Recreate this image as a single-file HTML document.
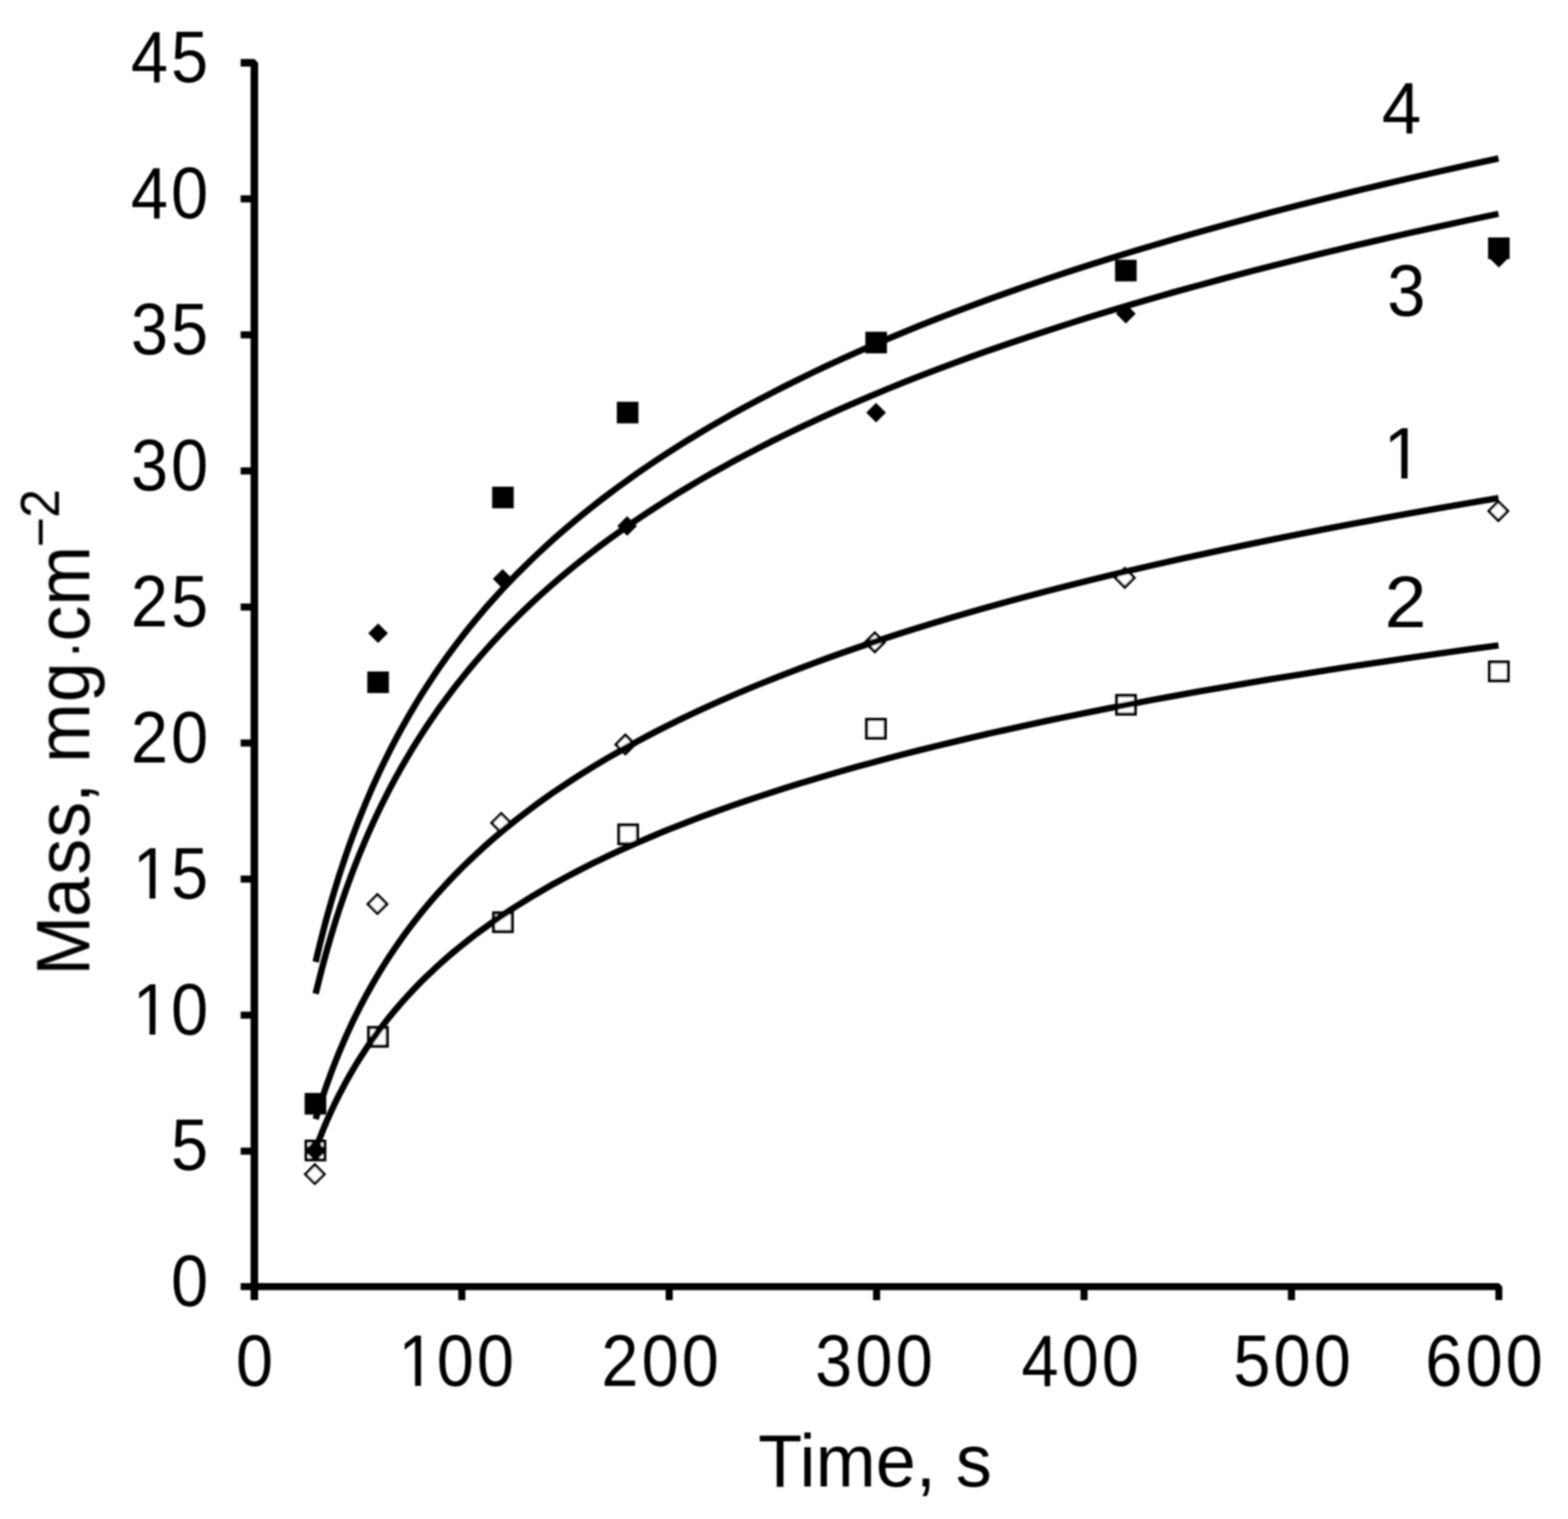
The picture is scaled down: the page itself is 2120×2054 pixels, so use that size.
<!DOCTYPE html>
<html lang="en">
<head>
<meta charset="utf-8">
<title>Mass vs. Time</title>
<style>
html,body{margin:0;padding:0;background:#fff;}
body{width:2120px;height:2054px;overflow:hidden;}
svg{display:block;}
text{font-family:"Liberation Sans", Arial, Helvetica, sans-serif;fill:#000;}
.ax{stroke:#000;stroke-width:10.2;fill:none;stroke-linecap:butt;stroke-linejoin:bevel;}
.axx{stroke:#000;stroke-width:9.4;fill:none;stroke-linecap:butt;stroke-linejoin:bevel;}
.tk{stroke:#000;stroke-width:9.6;fill:none;stroke-linecap:butt;}
.cv{stroke:#000;stroke-width:8.6;fill:none;stroke-linecap:butt;stroke-linejoin:round;}
.fs{fill:#000;stroke:none;}
.os{fill:#fff;stroke:#000;stroke-width:4.2;}
.od{fill:#fff;stroke:#000;stroke-width:3.7;stroke-linejoin:miter;}
</style>
</head>
<body>
<svg width="2120" height="2054" viewBox="0 0 2120 2054">
<defs>
<filter id="soft" x="0" y="0" width="2120" height="2054" filterUnits="userSpaceOnUse"><feGaussianBlur stdDeviation="1.0"/></filter>
<clipPath id="c0" clipPathUnits="userSpaceOnUse"><rect x="-149.0" y="-115.2" width="480.0" height="107.2"/><rect x="-28.8" y="-9.0" width="8.5" height="11.0"/><rect x="1.2" y="-9.0" width="384.0" height="46.4"/></clipPath>
<clipPath id="c1" clipPathUnits="userSpaceOnUse"><rect x="-149.0" y="-115.2" width="480.0" height="107.2"/><rect x="-28.8" y="-9.0" width="8.5" height="11.0"/><rect x="1.2" y="-9.0" width="384.0" height="46.4"/></clipPath>
<clipPath id="c2" clipPathUnits="userSpaceOnUse"><rect x="-177.9" y="-115.2" width="480.0" height="107.2"/><rect x="-57.8" y="-9.0" width="8.5" height="11.0"/><rect x="-27.7" y="-9.0" width="384.0" height="46.4"/></clipPath>
<clipPath id="c3" clipPathUnits="userSpaceOnUse"><rect x="-120.2" y="-115.2" width="480.0" height="107.2"/><rect x="-0.1" y="-9.0" width="8.5" height="11.0"/><rect x="29.6" y="-9.0" width="384.0" height="46.4"/></clipPath>
</defs>
<rect x="0" y="0" width="2120" height="2054" fill="#fff"/>
<g id="chart" filter="url(#soft)">
<g id="markers-under">
<rect class="os" x="413.9" y="1543.1" width="25.2" height="25.2"/>
<rect class="os" x="498.4" y="1389.4" width="25.2" height="25.2"/>
<rect class="os" x="667.4" y="1234.4" width="25.2" height="25.2"/>
<rect class="os" x="836.7" y="1115.6" width="25.2" height="25.2"/>
<rect class="os" x="1171.7" y="972.8" width="25.2" height="25.2"/>
<rect class="os" x="1509.8" y="940.4" width="25.2" height="25.2"/>
<rect class="os" x="2013.9" y="895.2" width="25.2" height="25.2"/>
<path class="od" d="M425.7 1574.9 L438.5 1587.7 L425.7 1600.5 L412.9 1587.7 Z"/>
<path class="od" d="M510.3 1209.6 L523.1 1222.4 L510.3 1235.2 L497.5 1222.4 Z"/>
<path class="od" d="M677.6 1100.0 L690.4 1112.8 L677.6 1125.6 L664.8 1112.8 Z"/>
<path class="od" d="M845.5 993.9 L858.3 1006.7 L845.5 1019.5 L832.7 1006.7 Z"/>
<path class="od" d="M1182.8 855.8 L1195.6 868.6 L1182.8 881.4 L1170.0 868.6 Z"/>
<path class="od" d="M1520.8 768.5 L1533.6 781.3 L1520.8 794.1 L1508.0 781.3 Z"/>
<path class="od" d="M2025.8 678.2 L2038.6 691.0 L2025.8 703.8 L2013.0 691.0 Z"/>
<path class="fs" d="M426.5 1540.7 L441.5 1555.7 L426.5 1570.7 L411.5 1555.7 Z"/>
<path class="fs" d="M511.2 843.0 L524.5 856.3 L511.2 869.6 L497.9 856.3 Z"/>
<path class="fs" d="M679.6 769.4 L692.9 782.7 L679.6 796.0 L666.3 782.7 Z"/>
<path class="fs" d="M847.9 698.0 L861.2 711.3 L847.9 724.6 L834.6 711.3 Z"/>
<path class="fs" d="M1184.5 544.7 L1197.8 558.0 L1184.5 571.3 L1171.2 558.0 Z"/>
<path class="fs" d="M1522.2 411.0 L1535.5 424.3 L1522.2 437.6 L1508.9 424.3 Z"/>
<path class="fs" d="M2026.5 335.2 L2039.8 348.5 L2026.5 361.8 L2013.2 348.5 Z"/>
<rect class="fs" x="411.9" y="1477.9" width="29.2" height="29.2"/>
<rect class="fs" x="496.6" y="908.0" width="29.2" height="29.2"/>
<rect class="fs" x="665.4" y="658.1" width="29.2" height="29.2"/>
<rect class="fs" x="834.0" y="543.3" width="29.2" height="29.2"/>
<rect class="fs" x="1170.0" y="448.6" width="29.2" height="29.2"/>
<rect class="fs" x="1507.6" y="351.3" width="29.2" height="29.2"/>
<rect class="fs" x="2011.9" y="321.1" width="29.2" height="29.2"/>
</g>
<g id="curves">
<path class="cv" d="M426.8 1300.7 L428.9 1291.7 L431.1 1282.6 L433.3 1273.6 L435.6 1264.5 L437.9 1255.5 L440.3 1246.4 L442.7 1237.4 L445.3 1228.3 L447.8 1219.3 L450.5 1210.2 L453.2 1201.1 L456.0 1192.1 L458.8 1183.0 L461.8 1174.0 L464.8 1164.9 L467.8 1155.9 L471.0 1146.8 L474.2 1137.8 L477.5 1128.7 L480.9 1119.7 L484.4 1110.6 L488.0 1101.6 L491.7 1092.5 L495.4 1083.4 L499.3 1074.4 L503.2 1065.3 L507.3 1056.3 L511.4 1047.2 L515.7 1038.2 L520.1 1029.1 L524.5 1020.1 L529.1 1011.0 L533.8 1002.0 L538.7 992.9 L543.6 983.9 L548.7 974.8 L553.9 965.7 L559.2 956.7 L564.7 947.6 L570.3 938.6 L576.1 929.5 L582.0 920.5 L588.0 911.4 L594.2 902.4 L600.6 893.3 L607.1 884.3 L613.8 875.2 L620.7 866.2 L627.7 857.1 L634.9 848.0 L642.3 839.0 L649.9 829.9 L657.6 820.9 L665.6 811.8 L673.8 802.8 L682.1 793.7 L690.7 784.7 L699.5 775.6 L708.6 766.6 L717.8 757.5 L727.3 748.5 L737.1 739.4 L747.0 730.3 L757.3 721.3 L767.8 712.2 L778.5 703.2 L789.6 694.1 L800.9 685.1 L812.5 676.0 L824.4 667.0 L836.6 657.9 L849.1 648.9 L861.9 639.8 L875.1 630.8 L888.5 621.7 L902.4 612.6 L916.5 603.6 L931.1 594.5 L946.0 585.5 L961.3 576.4 L976.9 567.4 L993.0 558.3 L1009.5 549.3 L1026.4 540.2 L1043.7 531.2 L1061.4 522.1 L1079.7 513.1 L1098.3 504.0 L1117.5 494.9 L1137.1 485.9 L1157.2 476.8 L1177.9 467.8 L1199.0 458.7 L1220.7 449.7 L1243.0 440.6 L1265.8 431.6 L1289.2 422.5 L1313.2 413.5 L1337.8 404.4 L1363.0 395.4 L1388.9 386.3 L1415.4 377.2 L1442.6 368.2 L1470.4 359.1 L1499.0 350.1 L1528.3 341.0 L1558.4 332.0 L1589.2 322.9 L1620.8 313.9 L1653.2 304.8 L1686.4 295.8 L1720.5 286.7 L1755.4 277.7 L1791.2 268.6 L1827.9 259.5 L1865.6 250.5 L1904.2 241.4 L1943.8 232.4 L1984.4 223.3 L2026.0 214.3"/>
<path class="cv" d="M426.8 1343.8 L428.9 1335.0 L431.1 1326.2 L433.3 1317.4 L435.6 1308.6 L437.9 1299.8 L440.3 1291.1 L442.7 1282.3 L445.3 1273.5 L447.8 1264.7 L450.5 1255.9 L453.2 1247.1 L456.0 1238.3 L458.8 1229.5 L461.8 1220.7 L464.8 1212.0 L467.8 1203.2 L471.0 1194.4 L474.2 1185.6 L477.5 1176.8 L480.9 1168.0 L484.4 1159.2 L488.0 1150.4 L491.7 1141.6 L495.4 1132.9 L499.3 1124.1 L503.2 1115.3 L507.3 1106.5 L511.4 1097.7 L515.7 1088.9 L520.1 1080.1 L524.5 1071.3 L529.1 1062.5 L533.8 1053.7 L538.7 1045.0 L543.6 1036.2 L548.7 1027.4 L553.9 1018.6 L559.2 1009.8 L564.7 1001.0 L570.3 992.2 L576.1 983.4 L582.0 974.6 L588.0 965.9 L594.2 957.1 L600.6 948.3 L607.1 939.5 L613.8 930.7 L620.7 921.9 L627.7 913.1 L634.9 904.3 L642.3 895.5 L649.9 886.7 L657.6 878.0 L665.6 869.2 L673.8 860.4 L682.1 851.6 L690.7 842.8 L699.5 834.0 L708.6 825.2 L717.8 816.4 L727.3 807.6 L737.1 798.9 L747.0 790.1 L757.3 781.3 L767.8 772.5 L778.5 763.7 L789.6 754.9 L800.9 746.1 L812.5 737.3 L824.4 728.5 L836.6 719.8 L849.1 711.0 L861.9 702.2 L875.1 693.4 L888.5 684.6 L902.4 675.8 L916.5 667.0 L931.1 658.2 L946.0 649.4 L961.3 640.6 L976.9 631.9 L993.0 623.1 L1009.5 614.3 L1026.4 605.5 L1043.7 596.7 L1061.4 587.9 L1079.7 579.1 L1098.3 570.3 L1117.5 561.5 L1137.1 552.8 L1157.2 544.0 L1177.9 535.2 L1199.0 526.4 L1220.7 517.6 L1243.0 508.8 L1265.8 500.0 L1289.2 491.2 L1313.2 482.4 L1337.8 473.6 L1363.0 464.9 L1388.9 456.1 L1415.4 447.3 L1442.6 438.5 L1470.4 429.7 L1499.0 420.9 L1528.3 412.1 L1558.4 403.3 L1589.2 394.5 L1620.8 385.8 L1653.2 377.0 L1686.4 368.2 L1720.5 359.4 L1755.4 350.6 L1791.2 341.8 L1827.9 333.0 L1865.6 324.2 L1904.2 315.4 L1943.8 306.7 L1984.4 297.9 L2026.0 289.1"/>
<path class="cv" d="M426.8 1513.2 L428.9 1506.2 L431.1 1499.2 L433.3 1492.2 L435.6 1485.2 L437.9 1478.2 L440.3 1471.2 L442.7 1464.2 L445.3 1457.2 L447.8 1450.2 L450.5 1443.2 L453.2 1436.2 L456.0 1429.2 L458.8 1422.2 L461.8 1415.2 L464.8 1408.2 L467.8 1401.2 L471.0 1394.2 L474.2 1387.2 L477.5 1380.2 L480.9 1373.3 L484.4 1366.3 L488.0 1359.3 L491.7 1352.3 L495.4 1345.3 L499.3 1338.3 L503.2 1331.3 L507.3 1324.3 L511.4 1317.3 L515.7 1310.3 L520.1 1303.3 L524.5 1296.3 L529.1 1289.3 L533.8 1282.3 L538.7 1275.3 L543.6 1268.3 L548.7 1261.3 L553.9 1254.3 L559.2 1247.3 L564.7 1240.3 L570.3 1233.3 L576.1 1226.3 L582.0 1219.3 L588.0 1212.3 L594.2 1205.3 L600.6 1198.3 L607.1 1191.3 L613.8 1184.3 L620.7 1177.3 L627.7 1170.3 L634.9 1163.3 L642.3 1156.3 L649.9 1149.3 L657.6 1142.3 L665.6 1135.3 L673.8 1128.3 L682.1 1121.3 L690.7 1114.3 L699.5 1107.3 L708.6 1100.3 L717.8 1093.3 L727.3 1086.3 L737.1 1079.3 L747.0 1072.3 L757.3 1065.4 L767.8 1058.4 L778.5 1051.4 L789.6 1044.4 L800.9 1037.4 L812.5 1030.4 L824.4 1023.4 L836.6 1016.4 L849.1 1009.4 L861.9 1002.4 L875.1 995.4 L888.5 988.4 L902.4 981.4 L916.5 974.4 L931.1 967.4 L946.0 960.4 L961.3 953.4 L976.9 946.4 L993.0 939.4 L1009.5 932.4 L1026.4 925.4 L1043.7 918.4 L1061.4 911.4 L1079.7 904.4 L1098.3 897.4 L1117.5 890.4 L1137.1 883.4 L1157.2 876.4 L1177.9 869.4 L1199.0 862.4 L1220.7 855.4 L1243.0 848.4 L1265.8 841.4 L1289.2 834.4 L1313.2 827.4 L1337.8 820.4 L1363.0 813.4 L1388.9 806.4 L1415.4 799.4 L1442.6 792.4 L1470.4 785.4 L1499.0 778.4 L1528.3 771.4 L1558.4 764.4 L1589.2 757.4 L1620.8 750.5 L1653.2 743.5 L1686.4 736.5 L1720.5 729.5 L1755.4 722.5 L1791.2 715.5 L1827.9 708.5 L1865.6 701.5 L1904.2 694.5 L1943.8 687.5 L1984.4 680.5 L2026.0 673.5"/>
<path class="cv" d="M426.8 1553.6 L428.9 1547.9 L431.1 1542.2 L433.3 1536.6 L435.6 1530.9 L437.9 1525.2 L440.3 1519.5 L442.7 1513.9 L445.3 1508.2 L447.8 1502.5 L450.5 1496.9 L453.2 1491.2 L456.0 1485.5 L458.8 1479.8 L461.8 1474.2 L464.8 1468.5 L467.8 1462.8 L471.0 1457.1 L474.2 1451.5 L477.5 1445.8 L480.9 1440.1 L484.4 1434.4 L488.0 1428.8 L491.7 1423.1 L495.4 1417.4 L499.3 1411.7 L503.2 1406.1 L507.3 1400.4 L511.4 1394.7 L515.7 1389.0 L520.1 1383.4 L524.5 1377.7 L529.1 1372.0 L533.8 1366.3 L538.7 1360.7 L543.6 1355.0 L548.7 1349.3 L553.9 1343.6 L559.2 1338.0 L564.7 1332.3 L570.3 1326.6 L576.1 1320.9 L582.0 1315.3 L588.0 1309.6 L594.2 1303.9 L600.6 1298.2 L607.1 1292.6 L613.8 1286.9 L620.7 1281.2 L627.7 1275.6 L634.9 1269.9 L642.3 1264.2 L649.9 1258.5 L657.6 1252.9 L665.6 1247.2 L673.8 1241.5 L682.1 1235.8 L690.7 1230.2 L699.5 1224.5 L708.6 1218.8 L717.8 1213.1 L727.3 1207.5 L737.1 1201.8 L747.0 1196.1 L757.3 1190.4 L767.8 1184.8 L778.5 1179.1 L789.6 1173.4 L800.9 1167.7 L812.5 1162.1 L824.4 1156.4 L836.6 1150.7 L849.1 1145.0 L861.9 1139.4 L875.1 1133.7 L888.5 1128.0 L902.4 1122.3 L916.5 1116.7 L931.1 1111.0 L946.0 1105.3 L961.3 1099.6 L976.9 1094.0 L993.0 1088.3 L1009.5 1082.6 L1026.4 1077.0 L1043.7 1071.3 L1061.4 1065.6 L1079.7 1059.9 L1098.3 1054.3 L1117.5 1048.6 L1137.1 1042.9 L1157.2 1037.2 L1177.9 1031.6 L1199.0 1025.9 L1220.7 1020.2 L1243.0 1014.5 L1265.8 1008.9 L1289.2 1003.2 L1313.2 997.5 L1337.8 991.8 L1363.0 986.2 L1388.9 980.5 L1415.4 974.8 L1442.6 969.1 L1470.4 963.5 L1499.0 957.8 L1528.3 952.1 L1558.4 946.4 L1589.2 940.8 L1620.8 935.1 L1653.2 929.4 L1686.4 923.7 L1720.5 918.1 L1755.4 912.4 L1791.2 906.7 L1827.9 901.0 L1865.6 895.4 L1904.2 889.7 L1943.8 884.0 L1984.4 878.3 L2026.0 872.7"/>
</g>
<g id="markers-over">
</g>
<g id="axes">
<path class="ax" d="M325.4 84.9 H343.9 V1758.1"/>
<path class="axx" d="M325.4 1739.8 H2026.5 V1758.1"/>
<path class="tk" d="M325.4 1556.6 H343.9"/>
<path class="tk" d="M325.4 1372.7 H343.9"/>
<path class="tk" d="M325.4 1188.7 H343.9"/>
<path class="tk" d="M325.4 1004.7 H343.9"/>
<path class="tk" d="M325.4 820.8 H343.9"/>
<path class="tk" d="M325.4 636.8 H343.9"/>
<path class="tk" d="M325.4 452.8 H343.9"/>
<path class="tk" d="M325.4 268.9 H343.9"/>
<path class="tk" d="M624.4 1739.8 V1758.1"/>
<path class="tk" d="M904.8 1739.8 V1758.1"/>
<path class="tk" d="M1185.2 1739.8 V1758.1"/>
<path class="tk" d="M1465.7 1739.8 V1758.1"/>
<path class="tk" d="M1746.1 1739.8 V1758.1"/>
</g>
<g id="labels">
<text transform="translate(256.4 1766.4) scale(0.94 1.03)" font-size="96" x="-26.7">0</text>
<text transform="translate(256.4 1582.4) scale(0.94 1.03)" font-size="96" x="-26.7">5</text>
<text transform="translate(229.2 1398.5) scale(0.94 1.03)" font-size="96" x="-53.0 2.2" clip-path="url(#c0)">10</text>
<text transform="translate(229.2 1214.5) scale(0.94 1.03)" font-size="96" x="-53.0 2.2" clip-path="url(#c1)">15</text>
<text transform="translate(229.2 1030.5) scale(0.94 1.03)" font-size="96" x="-55.6 2.2">20</text>
<text transform="translate(229.2 846.6) scale(0.94 1.03)" font-size="96" x="-55.6 2.2">25</text>
<text transform="translate(229.2 662.6) scale(0.94 1.03)" font-size="96" x="-55.6 2.2">30</text>
<text transform="translate(229.2 478.6) scale(0.94 1.03)" font-size="96" x="-55.6 2.2">35</text>
<text transform="translate(229.2 294.7) scale(0.94 1.03)" font-size="96" x="-55.6 2.2">40</text>
<text transform="translate(229.2 110.7) scale(0.94 1.03)" font-size="96" x="-55.6 2.2">45</text>
<text transform="translate(344.0 1873.9) scale(0.94 1.03)" font-size="96" x="-26.7">0</text>
<text transform="translate(615.5 1873.9) scale(0.94 1.03)" font-size="96" x="-81.9 -26.7 31.2" clip-path="url(#c2)">100</text>
<text transform="translate(892.5 1873.9) scale(0.94 1.03)" font-size="96" x="-84.6 -26.7 31.2">200</text>
<text transform="translate(1181.6 1873.9) scale(0.94 1.03)" font-size="96" x="-84.6 -26.7 31.2">300</text>
<text transform="translate(1460.5 1873.9) scale(0.94 1.03)" font-size="96" x="-84.6 -26.7 31.2">400</text>
<text transform="translate(1746.9 1873.9) scale(0.94 1.03)" font-size="96" x="-84.6 -26.7 31.2">500</text>
<text transform="translate(2006.5 1873.9) scale(0.94 1.03)" font-size="96" x="-84.6 -26.7 31.2">600</text>
<text transform="translate(1895.0 179.8) scale(1.0 1.03)" font-size="96" x="-26.7">4</text>
<text transform="translate(1901.5 427.0) scale(0.97 1.03)" font-size="96" x="-26.7">3</text>
<text transform="translate(1894.7 647.0) scale(1.0 1.03)" font-size="96" x="-24.2" clip-path="url(#c3)">1</text>
<text transform="translate(1900.3 848.3) scale(1.06 1.03)" font-size="96" x="-26.7">2</text>
<text transform="translate(1025.1 2010.2) scale(1 1.03)" font-size="97.5">Time, s</text>
<text transform="translate(121.0 1320.7) rotate(-90) scale(1 1.06)" font-size="97" x="1.4 80.8 138.0 187.9 235.0 262.0 289.0 371.2 429.7 453.2 501.7 580.4 620.4">Mass, mg<tspan font-size="75" dy="2.3">·</tspan><tspan dy="-2.3">cm</tspan><tspan font-size="70" dy="-38.9">−2</tspan></text>
</g>
</g>
</svg>
</body>
</html>
